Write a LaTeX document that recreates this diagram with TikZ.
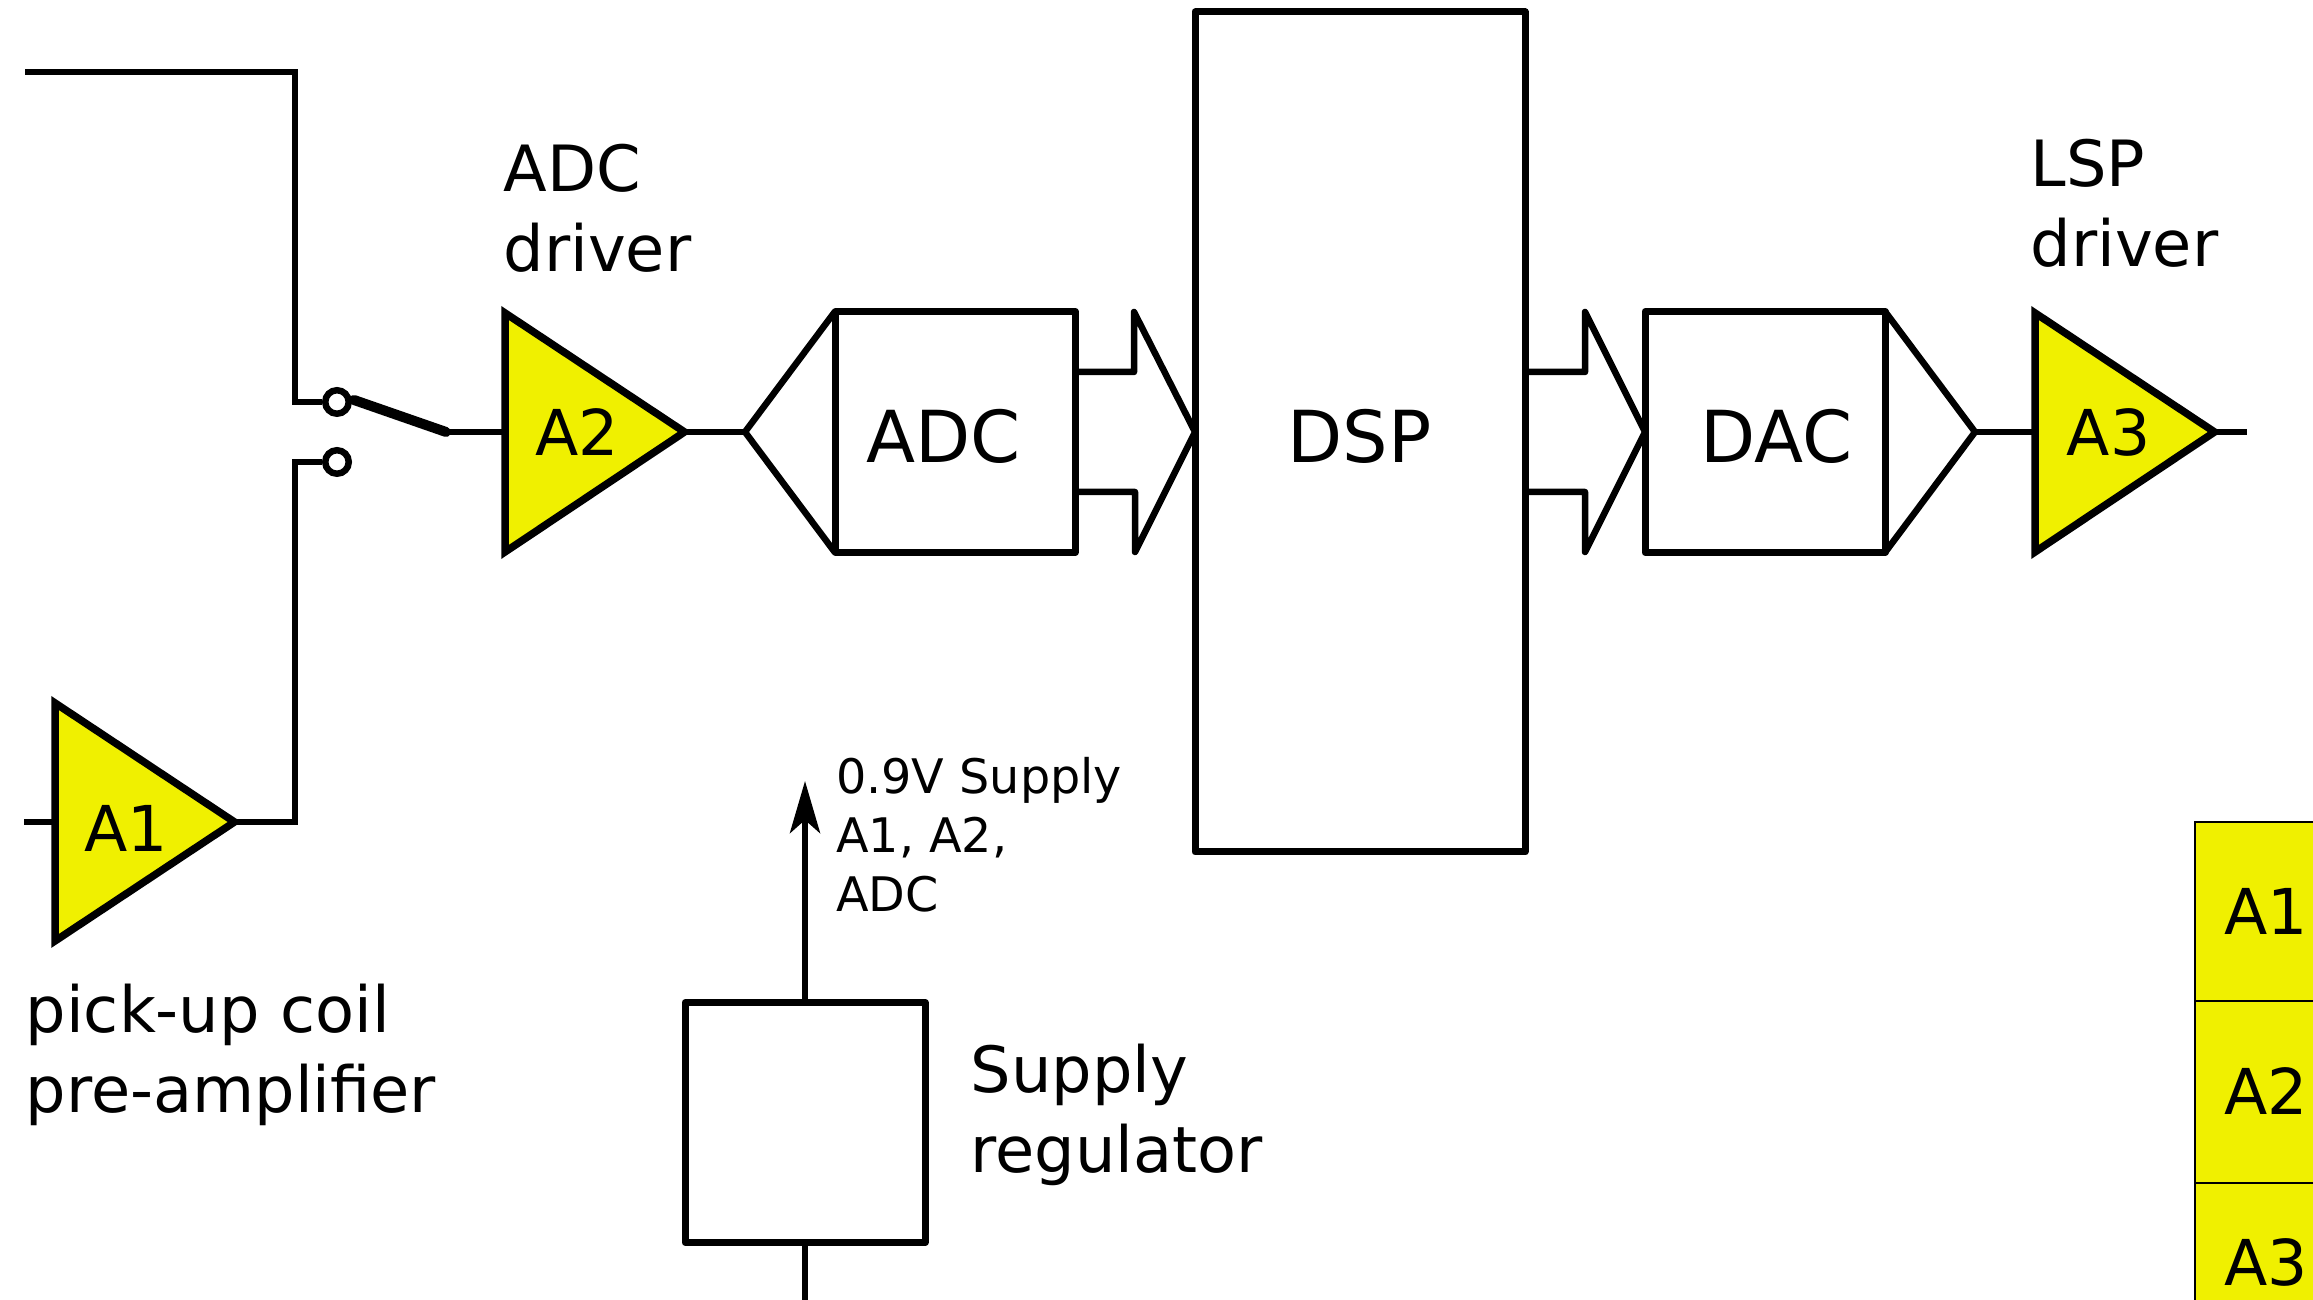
\documentclass[tikz,border=0pt]{standalone}
\usepackage{fontspec}
\setmainfont{DejaVu Sans}
\usetikzlibrary{arrows.meta}

\definecolor{ampyellow}{RGB}{240, 240, 0}

\begin{document}
\begin{tikzpicture}[> = {Stealth[length = 0.52cm, width = 0.30cm, inset = 0.13cm]},
	wire/.style = {line width = 0.065cm},
	amp/.style = {line width = 0.075cm, fill = ampyellow},
	block/.style = {draw, rectangle, line width = 0.07cm, line join = round, inner sep = 0, outer sep = 0},
	contact/.style = {draw, circle, line width = 0.065cm, fill = white, minimum size = 0.235cm, inner sep = 0},
	row/.style = {draw, rectangle, line width = 0.02cm, fill = ampyellow, inner sep = 0, outer sep = 0, minimum width = 1.42cm, text height = 0.46cm, text depth = 0cm, font = \fontsize{18}{22}\selectfont},
	amplabel/.style = {anchor = base west, inner sep = 0, font = \fontsize{18}{22}\selectfont},
	bigtext/.style = {anchor = base west, inner sep = 0, font = \fontsize{20.4}{24}\selectfont},
	midtext/.style = {anchor = base west, inner sep = 0, align = left, font = \fontsize{18.15}{22.8}\selectfont},
	smalltext/.style = {anchor = base west, inner sep = 0, align = left, font = \fontsize{13.55}{16.9}\selectfont}]

	\useasboundingbox (0, 0) rectangle (23.13, 13);

	% Amplifier terminals and free wire ends

	\coordinate (A1 in) at (0.55, 4.78);
	\coordinate (A1 out) at (2.345, 4.78);
	\coordinate (A2 in) at (5.05, 8.68);
	\coordinate (A2 out) at (6.845, 8.68);
	\coordinate (A3 in) at (20.35, 8.68);
	\coordinate (A3 out) at (22.145, 8.68);

	\coordinate (coil end) at (0.24, 4.78);
	\coordinate (top end) at (0.25, 12.28);
	\coordinate (out end) at (22.47, 8.68);
	\coordinate (top bend) at (2.95, 8.98);
	\coordinate (low bend) at (2.95, 8.38);
	\coordinate (arm pivot) at (4.46, 8.68);
	\coordinate (arm tip) at (3.54, 9);
	\coordinate (supply out) at (8.05, 5.19);
	\coordinate (supply in) at (8.05, 0);

	% Blocks

	\node [block, minimum width = 2.40cm, minimum height = 2.41cm] (ADC) at (9.55, 8.68) {};
	\node [block, minimum width = 3.30cm, minimum height = 8.40cm] (DSP) at (13.60, 8.68) {};
	\node [block, minimum width = 2.40cm, minimum height = 2.41cm] (DAC) at (17.65, 8.68) {};
	\node [block, minimum width = 2.40cm, minimum height = 2.40cm] (regulator) at (8.05, 1.775) {};

	\node [bigtext] (ADC text) at (8.66, 8.37) {ADC};
	\node [bigtext] (DSP text) at (12.87, 8.37) {DSP};
	\node [bigtext] (DAC text) at (17.00, 8.37) {DAC};

	% Amplifiers

	\draw [amp] (A1 in) -- (0.55, 5.97) -- (A1 out) -- (0.55, 3.59) -- cycle;
	\draw [amp] (A2 in) -- (5.05, 9.87) -- (A2 out) -- (5.05, 7.48) -- cycle;
	\draw [amp] (A3 in) -- (20.35, 9.87) -- (A3 out) -- (20.35, 7.48) -- cycle;

	\node [amplabel] (A1) at (0.84, 4.48) {A1};
	\node [amplabel] (A2) at (5.35, 8.44) {A2};
	\node [amplabel] (A3) at (20.66, 8.44) {A3};

	% Input switch

	\node [contact] (top contact) at (3.37, 8.98) {};
	\node [contact] (low contact) at (3.37, 8.38) {};

	\draw [line width = 0.10cm, line cap = round] (arm tip) -- (arm pivot);

	% Signal path

	\begin{scope}[wire]

		\draw (coil end) -- (A1 in);
		\draw (top end) -| (top bend) -- (top contact);
		\draw (A1 out) -| (low bend) -- (low contact);
		\draw (arm pivot) -- (A2 in);
		\draw (A2 out) -- (7.45, 8.68);
		\draw (19.75, 8.68) -- (A3 in);
		\draw (A3 out) -- (out end);

	\end{scope}

	% Triangles on the converters, bus arrows

	\begin{scope}[line width = 0.065cm, line join = round]

		\draw (ADC.north west) -- (7.45, 8.68) -- (ADC.south west);
		\draw (DAC.north east) -- (19.75, 8.68) -- (DAC.south east);

		\draw (10.75, 9.28) -- ++ (0.59, 0) -- ++ (0, 0.60) -- (DSP.west) -- ++ (-0.60, -1.20) -- ++ (0, 0.60) -- ++ (-0.59, 0);
		\draw (DSP.east) ++ (0, 0.60) -- ++ (0.60, 0) -- ++ (0, 0.60) -- (DAC.west) -- ++ (-0.60, -1.20) -- ++ (0, 0.60) -- ++ (-0.60, 0);

	\end{scope}

	% Supply

	\draw [wire] (regulator) ++ (0, -1.2) -- (supply in);
	\draw [wire, ->] (regulator.north) -- (supply out);

	% Labels

	\node [midtext] (ADC driver) at (5.03, 10.28) {ADC\\driver};
	\node [midtext] (LSP driver) at (20.30, 10.33) {LSP\\driver};
	\node [midtext] (coil label) at (0.25, 1.875) {pick-up coil\\pre-amplifier};
	\node [midtext] (regulator label) at (9.70, 1.275) {Supply\\regulator};
	\node [smalltext] (supply label) at (8.355, 3.88) {0.9V Supply\\A1, A2,\\ADC};

	% Key

	\node [row, minimum height = 1.79cm] (key A1) at (22.66, 3.885) {A1};
	\node [row, minimum height = 1.82cm] (key A2) at (22.66, 2.08) {A2};
	\node [row, minimum height = 1.60cm] (key A3) at (22.66, 0.37) {A3};

\end{tikzpicture}
\end{document}
